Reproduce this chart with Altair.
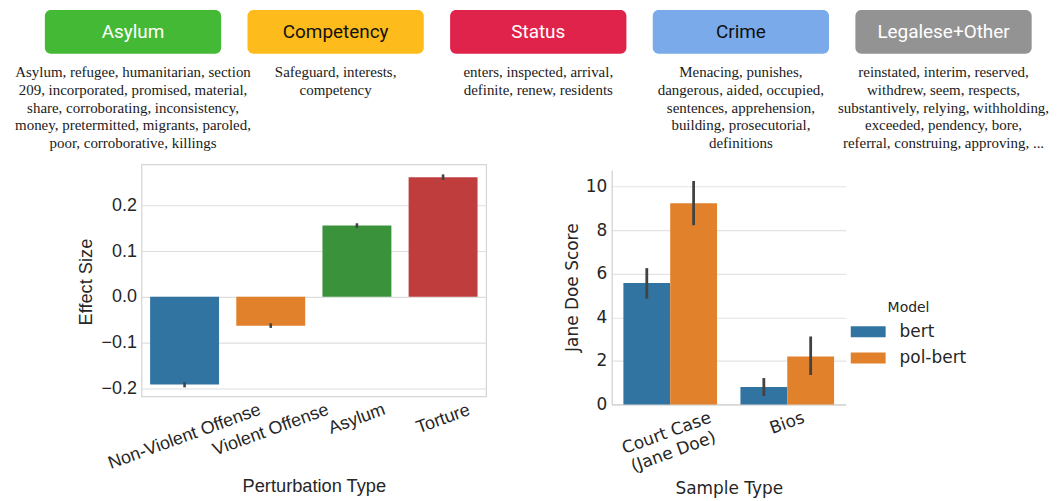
import altair as alt
import pandas as pd

# ---------------- data ----------------
cat_names = ["Asylum", "Competency", "Status", "Crime", "Legalese+Other"]
cat_colors = ["#43b935", "#fdbc1b", "#e0234a", "#7aaaea", "#939393"]
cat_text_colors = ["#ffffff", "#111111", "#ffffff", "#111111", "#ffffff"]
cat_words = [
    "Asylum, refugee, humanitarian, section\n209, incorporated, promised, material,\nshare, corroborating, inconsistency,\nmoney, pretermitted, migrants, paroled,\npoor, corroborative, killings",
    "Safeguard, interests,\ncompetency",
    "enters, inspected, arrival,\ndefinite, renew, residents",
    "Menacing, punishes,\ndangerous, aided, occupied,\nsentences, apprehension,\nbuilding, prosecutorial,\ndefinitions",
    "reinstated, interim, reserved,\nwithdrew, seem, respects,\nsubstantively, relying, withholding,\nexceeded, pendency, bore,\nreferral, construing, approving, ...",
]

pert_types = ["Non-Violent Offense", "Violent Offense", "Asylum", "Torture"]
pert_effect = [-0.192, -0.063, 0.156, 0.262]
pert_lo = [-0.198, -0.068, 0.151, 0.256]
pert_hi = [-0.187, -0.058, 0.161, 0.268]
pert_colors = ["#3274a1", "#e1812c", "#3a923a", "#c03d3e"]

sample_types = ["Court Case (Jane Doe)", "Bios"]
models = ["bert", "pol-bert"]
model_colors = ["#3274a1", "#e1812c"]
jd_sample = ["Court Case (Jane Doe)", "Court Case (Jane Doe)", "Bios", "Bios"]
jd_model = ["bert", "pol-bert", "bert", "pol-bert"]
jd_score = [5.57, 9.24, 0.80, 2.20]
jd_lo = [4.86, 8.23, 0.385, 1.35]
jd_hi = [6.26, 10.26, 1.21, 3.12]

# ---------------- top: category boxes ----------------
top_df = pd.DataFrame({"cat": cat_names, "fillc": cat_colors,
                       "tcolor": cat_text_colors, "words": cat_words})
xs = alt.X("cat:N", sort=cat_names, axis=None,
           scale=alt.Scale(range=[-97, 893.6], paddingInner=0.13, paddingOuter=0))

boxes = alt.Chart(top_df).mark_bar(cornerRadius=6).encode(
    x=xs, y=alt.value(0), y2=alt.value(44),
    fill=alt.Fill("fillc:N", scale=None))
box_labels = alt.Chart(top_df).mark_text(
    font="Roboto", fontSize=19, baseline="alphabetic").encode(
    x=xs, y=alt.value(28), text="cat:N",
    color=alt.Color("tcolor:N", scale=None))
words = alt.Chart(top_df).mark_text(
    font="Liberation Serif", fontSize=15, lineBreak="\n", lineHeight=18,
    baseline="alphabetic", color="#1a1a1a").encode(
    x=xs, y=alt.value(67), text="words:N")
anchor = alt.Chart(top_df).mark_rule(color="white", strokeWidth=1).encode(
    x=alt.value(-133.5), y=alt.value(0), y2=alt.value(1))

top = alt.layer(anchor, boxes, box_labels, words).properties(width=900, height=150)

# ---------------- left: effect size ----------------
left_df = pd.DataFrame({"type": pert_types, "effect": pert_effect,
                        "lo": pert_lo, "hi": pert_hi})

left_pad = {"condition": [
    {"test": "datum.value === 'Non-Violent Offense'", "value": 31.7},
    {"test": "datum.value === 'Violent Offense'", "value": 25},
], "value": 14}

lx = alt.X("type:N", sort=pert_types,
           scale=alt.Scale(paddingInner=0.2, paddingOuter=0.1),
           axis=alt.Axis(title="Perturbation Type", labelAngle=340, labelAlign="center",
                         labelBaseline="top", labelOffset=-3, labelPadding=left_pad,
                         labelOverlap=False, ticks=False, domain=False, grid=False,
                         labelFont="Liberation Sans", labelFontSize=18, labelColor="#262626",
                         titleFont="Liberation Sans", titleFontSize=18.3, titleColor="#262626",
                         titleFontWeight="normal", titleBaseline="alphabetic", titleY=95.4))
ly_scale = alt.Scale(domain=[-0.218, 0.29], nice=False, zero=False)
left_bars = alt.Chart(left_df).mark_bar().encode(
    x=lx,
    y=alt.Y("effect:Q", scale=ly_scale,
            axis=alt.Axis(title="Effect Size", values=[-0.2, -0.1, 0.0, 0.1, 0.2], format=".1f",
                          ticks=False, domain=False, gridColor="#dedede", gridWidth=1.1,
                          labelFont="Liberation Sans", labelFontSize=18, labelColor="#262626",
                          labelPadding=5, labelOverlap=False,
                          titleFont="Liberation Sans", titleFontSize=18.3, titleColor="#262626",
                          titleFontWeight="normal", titleBaseline="alphabetic",
                          titleX=-49.7, titleY=117.7)),
    color=alt.Color("type:N", scale=alt.Scale(domain=pert_types, range=pert_colors), legend=None))
left_err = alt.Chart(left_df).mark_rule(color="#424242", strokeWidth=2.6).encode(
    x=alt.X("type:N", sort=pert_types), y=alt.Y("lo:Q", scale=ly_scale), y2="hi:Q")
left = alt.layer(left_bars, left_err).properties(
    width=346, height=233,
    view=alt.ViewBackground(stroke="#d6d6d6", strokeWidth=1.25))

# ---------------- right: Jane Doe score ----------------
right_df = pd.DataFrame({"sample": jd_sample, "model": jd_model, "score": jd_score,
                         "lo": jd_lo, "hi": jd_hi})

right_pad = {"condition": [
    {"test": "datum.value === 'Court Case (Jane Doe)'", "value": 21},
], "value": 11}
right_off = {"condition": [
    {"test": "datum.value === 'Court Case (Jane Doe)'", "value": -6.3},
], "value": -2.9}

rx = alt.X("sample:N", sort=sample_types,
           scale=alt.Scale(paddingInner=0.2, paddingOuter=0.1),
           axis=alt.Axis(title="Sample Type", labelAngle=340, labelAlign="center",
                         labelBaseline="top", labelOffset=right_off, labelPadding=right_pad,
                         labelLineHeight=20, labelOverlap=False,
                         labelExpr="datum.value === 'Court Case (Jane Doe)' ? ['Court Case', '(Jane Doe)'] : datum.label",
                         ticks=False, domain=True, domainColor="#d0d0d0", domainWidth=1.25,
                         grid=False,
                         labelFont="DejaVu Sans", labelFontSize=17, labelColor="#262626",
                         titleFont="DejaVu Sans", titleFontSize=17, titleColor="#262626",
                         titleFontWeight="normal", titleBaseline="alphabetic", titleY=89.1))
ry_scale = alt.Scale(domain=[0, 10.75], nice=False, range=[241, 6])
rxo = alt.XOffset("model:N", sort=models, scale=alt.Scale(paddingInner=0, paddingOuter=0))

right_bars = alt.Chart(right_df).mark_bar().encode(
    x=rx, xOffset=rxo,
    y=alt.Y("score:Q", scale=ry_scale,
            axis=alt.Axis(title="Jane Doe Score", values=[0, 2, 4, 6, 8, 10],
                          ticks=False, domain=True, domainColor="#d0d0d0", domainWidth=1.25,
                          gridColor="#e3e3e3", gridWidth=1.1,
                          labelFont="DejaVu Sans", labelFontSize=17, labelColor="#262626",
                          labelPadding=5, labelOverlap=False,
                          titleFont="DejaVu Sans", titleFontSize=17, titleColor="#262626",
                          titleFontWeight="normal", titleBaseline="alphabetic",
                          titleX=-34, titleY=123.3)),
    color=alt.Color("model:N", scale=alt.Scale(domain=models, range=model_colors),
                    legend=alt.Legend(title="Model", orient="none", legendX=240, legendY=137.5,
                                      direction="vertical",
                                      symbolType="M-1,-0.314H1V0.314H-1Z", symbolSize=1225,
                                      symbolStrokeWidth=0, symbolOpacity=1,
                                      labelFont="DejaVu Sans", labelFontSize=17, labelColor="#262626",
                                      titleFont="DejaVu Sans", titleFontSize=14, titleColor="#262626",
                                      titleFontWeight="normal", titleAnchor="middle",
                                      labelOffset=14, rowPadding=0.4, titlePadding=-1, padding=0)))
right_err = alt.Chart(right_df).mark_rule(color="#424242", strokeWidth=2.8).encode(
    x=alt.X("sample:N", sort=sample_types), xOffset=rxo,
    y=alt.Y("lo:Q", scale=ry_scale), y2="hi:Q")
right = alt.layer(right_bars, right_err).properties(width=235, height=241)

bottom = alt.hconcat(left, right, spacing=126, bounds="flush").resolve_legend(
    color="independent").resolve_scale(color="independent")
chart = alt.vconcat(top, bottom, spacing=5, bounds="flush").resolve_legend(
    color="independent", fill="independent").resolve_scale(
    color="independent", fill="independent").properties(
    padding=0, background="white"
).configure_view(stroke=None)

chart.save("out.html", embed_options={"renderer": "svg", "actions": False})
